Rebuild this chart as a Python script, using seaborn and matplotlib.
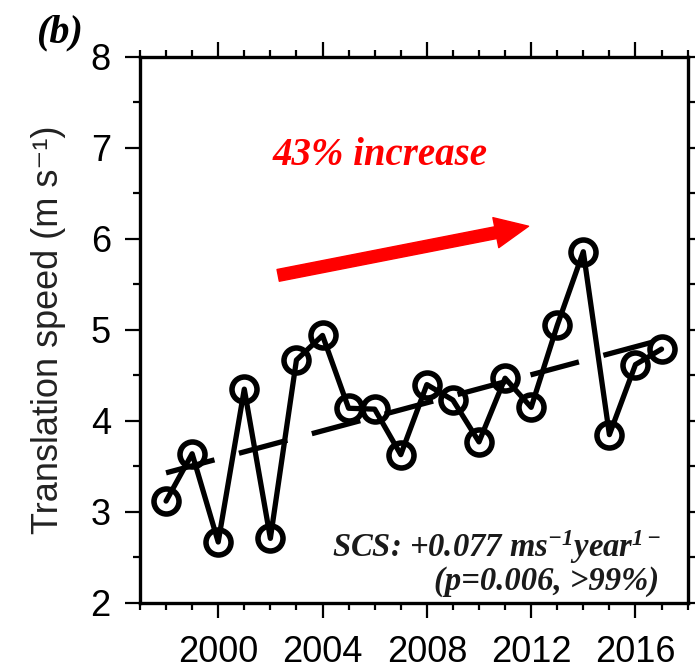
import numpy as np
import pandas as pd
import matplotlib
matplotlib.use("Agg")
import matplotlib.pyplot as plt
from matplotlib.ticker import MultipleLocator
import seaborn as sns

# Annual mean TC translation speed over the South China Sea
years = [1998, 1999, 2000, 2001, 2002, 2003, 2004, 2005, 2006, 2007,
         2008, 2009, 2010, 2011, 2012, 2013, 2014, 2015, 2016, 2017]
speed = [3.12, 3.64, 2.67, 4.35, 2.71, 4.67, 4.94, 4.14, 4.13, 3.63,
         4.40, 4.23, 3.77, 4.47, 4.15, 5.05, 5.86, 3.85, 4.62, 4.79]

# Linear trend (m s-1 per year) and its value in the first year
trend_slope = 0.077
trend_start = 3.43

x_ticks = [2000, 2004, 2008, 2012, 2016]
y_ticks = [2, 3, 4, 5, 6, 7, 8]

sns.set_theme(style="ticks")
plt.rcParams["font.family"] = ["Liberation Sans", "DejaVu Sans"]
plt.rcParams["text.color"] = "black"
plt.rcParams["axes.labelcolor"] = "black"
plt.rcParams["xtick.color"] = "black"
plt.rcParams["ytick.color"] = "black"
plt.rcParams["xtick.labelsize"] = 26
plt.rcParams["ytick.labelsize"] = 26
plt.rcParams["mathtext.fontset"] = "custom"
plt.rcParams["mathtext.rm"] = "Liberation Serif:bold:italic"
plt.rcParams["mathtext.it"] = "Liberation Serif:bold:italic"
plt.rcParams["mathtext.bf"] = "Liberation Serif:bold:italic"

df = pd.DataFrame({"year": years, "speed": speed})
trend_years = np.array([years[0], years[-1]])
trend_vals = trend_start + trend_slope * (trend_years - years[0])

fig = plt.figure(figsize=(6.95, 6.70), dpi=100)
ax = fig.add_axes([0.2014, 0.1, 0.788, 0.815])

sns.lineplot(data=df, x="year", y="speed", ax=ax, color="black",
             linewidth=3.8, marker="o", markersize=18,
             markerfacecolor="none", markeredgecolor="black",
             markeredgewidth=4.0, zorder=3)
ax.plot(trend_years, trend_vals, color="black", linewidth=3.8,
        linestyle=(0, (9.5, 4.8)), solid_capstyle="butt", zorder=2)

ax.set_xlim(1997, 2018)
ax.set_ylim(2, 8)
ax.set_xticks(x_ticks)
ax.set_yticks(y_ticks)
ax.xaxis.set_minor_locator(MultipleLocator(1))
ax.yaxis.set_minor_locator(MultipleLocator(0.5))
ax.tick_params(which="both", direction="out", top=True, right=True,
               width=1.6, color="black", labelcolor="black")
ax.tick_params(which="major", length=11, labelsize=26, pad=10)
ax.tick_params(which="minor", length=5)
ax.tick_params(axis="x", which="major", pad=12)
for s in ax.spines.values():
    s.set_linewidth(2.4)
    s.set_color("black")

ax.set_xlabel("")
ax.set_ylabel("Translation speed (m s⁻¹)", fontsize=26, labelpad=18,
              color="#222222")

ax.annotate("", xy=(2011.9, 6.14), xytext=(2002.3, 5.60),
            arrowprops=dict(arrowstyle="simple,head_length=24,head_width=22,tail_width=8.6",
                            color="red", shrinkA=0, shrinkB=0, mutation_scale=1))
ax.text(2002.1, 6.81, "43% increase", color="red", fontsize=28,
        family="Liberation Serif", weight="bold", style="italic",
        ha="left", va="baseline")

ax.text(2017.0, 2.51, r"SCS: +0.077 ms$^{-1}$year$^{1-}$", fontsize=23.5,
        family="Liberation Serif", weight="bold", style="italic",
        color="#1a1a1a", ha="right", va="baseline")
ax.text(2016.9, 2.14, "(p=0.006, >99%)", fontsize=23.5,
        family="Liberation Serif", weight="bold", style="italic",
        color="#1a1a1a", ha="right", va="baseline")

fig.text(0.085, 0.936, "(b)", fontsize=29, family="Liberation Serif",
         weight="bold", style="italic", ha="center", va="baseline")

fig.savefig("out.png", dpi=100)
